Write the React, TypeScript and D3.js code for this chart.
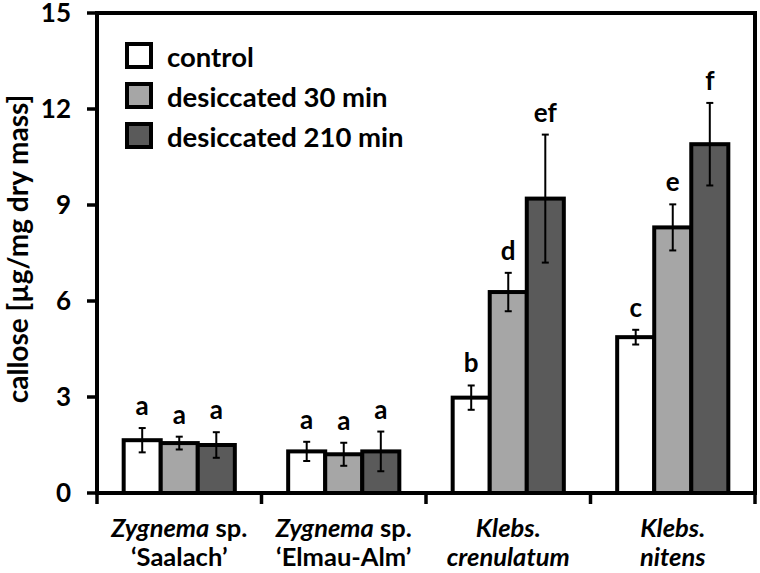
import * as d3 from "d3";

const categories = ["Saalach", "Elmau-Alm", "crenulatum", "nitens"];
const series = ["control", "desiccated 30 min", "desiccated 210 min"];
const fills = ["#ffffff", "#a6a6a6", "#5a5a5a"];

// mean callose per series (rows) and category (columns)
const means = [
  [1.65, 1.3, 2.98, 4.87],
  [1.56, 1.21, 6.28, 8.3],
  [1.5, 1.3, 9.2, 10.9],
];
const errors = [
  [0.38, 0.3, 0.38, 0.23],
  [0.2, 0.36, 0.6, 0.72],
  [0.4, 0.62, 2.0, 1.29],
];
const letters = [
  ["a", "a", "b", "c"],
  ["a", "a", "d", "e"],
  ["a", "a", "ef", "f"],
];
const yTicks = [0, 3, 6, 9, 12, 15];

// each category label: two lines, each a list of [text, italic]
const labelLines: [string, boolean][][][] = [
  [[["Zygnema", true], [" sp.", false]], [["\u2018Saalach\u2019", false]]],
  [[["Zygnema", true], [" sp.", false]], [["\u2018Elmau-Alm\u2019", false]]],
  [[["Klebs.", true]], [["crenulatum", true]]],
  [[["Klebs.", true]], [["nitens", true]]],
];

const W = 760;
const H = 573;
const left = 97;
const right = 755;
const top = 13;
const bottom = 493;
const font = "Lato, 'Open Sans', sans-serif";

export default function App() {
  const y = d3.scaleLinear().domain([0, 15]).range([bottom, top]);
  const x0 = d3.scaleBand().domain(categories).range([left, right]).padding(0);
  const x1 = d3
    .scaleBand()
    .domain(series)
    .range([0, x0.bandwidth()])
    .paddingInner(0)
    .paddingOuter(0.72);
  const bw = x1.bandwidth();
  const bounds = [...categories.map((c) => x0(c)!), right];

  return (
    <svg
      width={W}
      height={H}
      style={{ position: "absolute", left: 0, top: 0, background: "#fff" }}
      fontFamily={font}
      fontWeight="bold"
    >
      {/* bars */}
      {series.map((s, si) =>
        categories.map((c, ci) => {
          const v = means[si][ci];
          const bx = x0(c)! + x1(s)!;
          return (
            <rect
              key={s + c}
              x={bx}
              y={y(v)}
              width={bw}
              height={y(0) - y(v)}
              fill={fills[si]}
              stroke="#000"
              strokeWidth={4}
            />
          );
        })
      )}

      {/* error bars and letters */}
      {series.map((s, si) =>
        categories.map((c, ci) => {
          const v = means[si][ci];
          const e = errors[si][ci];
          const cx = x0(c)! + x1(s)! + bw / 2;
          return (
            <g key={"e" + s + c}>
              <line x1={cx} x2={cx} y1={y(v + e)} y2={y(v - e)} stroke="#000" strokeWidth={2} />
              <line x1={cx - 3.5} x2={cx + 3.5} y1={y(v + e)} y2={y(v + e)} stroke="#000" strokeWidth={2} />
              <line x1={cx - 3.5} x2={cx + 3.5} y1={y(v - e)} y2={y(v - e)} stroke="#000" strokeWidth={2} />
              <text x={cx} y={y(v + e) - 13} textAnchor="middle" fontSize={26}>
                {letters[si][ci]}
              </text>
            </g>
          );
        })
      )}

      {/* frame */}
      <path
        d={`M${left},${top}H${right}V${bottom}H${left}Z`}
        fill="none"
        stroke="#000"
        strokeWidth={4}
      />

      {/* y ticks */}
      {yTicks.map((t) => (
        <g key={t}>
          <line x1={left - 10} x2={left} y1={y(t)} y2={y(t)} stroke="#000" strokeWidth={3.5} />
          <text x={71} y={y(t)} dy="0.36em" textAnchor="end" fontSize={26}>
            {t}
          </text>
        </g>
      ))}

      {/* x ticks at category bounds */}
      {bounds.map((b, i) => (
        <line key={i} x1={b} x2={b} y1={bottom} y2={bottom + 11} stroke="#000" strokeWidth={3.5} />
      ))}

      {/* category labels */}
      {categories.map((c, ci) => (
        <g key={"l" + c}>
          {labelLines[ci].map((line, li) => (
            <text
              key={li}
              x={x0(c)! + x0.bandwidth() / 2}
              y={537 + li * 29}
              textAnchor="middle"
              fontSize={25.5}
            >
              {line.map(([t, it], k) => (
                <tspan key={k} fontStyle={it ? "italic" : "normal"}>
                  {t}
                </tspan>
              ))}
            </text>
          ))}
        </g>
      ))}

      {/* y axis title */}
      <text transform="translate(28,249) rotate(-90)" textAnchor="middle" fontSize={28}>
        callose [µg/mg dry mass]
      </text>

      {/* legend */}
      {series.map((s, si) => (
        <g key={"lg" + s} transform={`translate(127,${44 + si * 40})`}>
          <rect width={24} height={23} fill={fills[si]} stroke="#000" strokeWidth={4} />
          <text x={40} y={23} fontSize={27.5}>
            {s}
          </text>
        </g>
      ))}
    </svg>
  );
}
